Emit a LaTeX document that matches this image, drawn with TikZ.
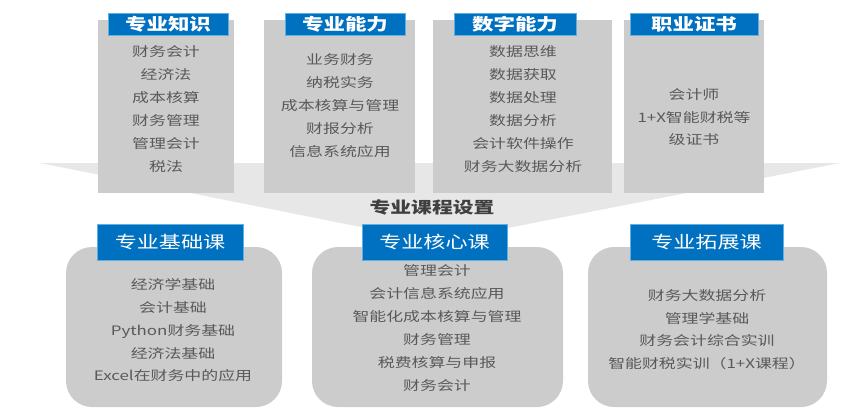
\documentclass[tikz,border=0pt]{standalone}
\usepackage{fontspec}
\setmainfont{Noto Sans CJK SC}[FakeStretch=1.3]
\definecolor{tblue}{RGB}{0,112,192}
\definecolor{tedge}{RGB}{95,175,225}
\definecolor{boxgray}{RGB}{204,204,204}
\definecolor{fungray}{RGB}{231,231,231}
\definecolor{txtgray}{RGB}{89,89,89}
\definecolor{headgray}{RGB}{64,64,64}
\tikzset{
  topbox/.style={fill=boxgray, inner sep=0pt},
  toptitle/.style={fill=tblue, draw=tedge, line width=0.8pt, inner sep=0pt,
                   minimum height=22pt, text=white, font=\fontsize{16.5}{18}\selectfont\bfseries},
  coursebox/.style={fill=boxgray, rounded corners=26pt, inner sep=0pt, minimum height=160pt},
  coursetitle/.style={fill=tblue, draw=tedge, line width=0.8pt, inner sep=0pt,
                   minimum height=36pt, text=white, font=\fontsize{17}{19}\selectfont},
  items/.style={text=txtgray, align=center, inner sep=0pt, font=\fontsize{13}{23}\selectfont},
}

\begin{document}
\begin{tikzpicture}[x=1pt, y=-1pt]
  \useasboundingbox (0,0) rectangle (865,416);
  % funnel behind everything
  \fill[fungray] (40,163) -- (840,163) -- (436,242) -- cycle;

  % top row
  \node[topbox, minimum width=136pt, minimum height=173pt] (know) at (166,106.5) {};
  \node[topbox, minimum width=151pt, minimum height=173pt] (abil) at (339.5,106.5) {};
  \node[topbox, minimum width=179pt, minimum height=173pt] (digi) at (522.5,106.5) {};
  \node[topbox, minimum width=140pt, minimum height=173pt] (cert) at (694,106.5) {};
  \node[toptitle, minimum width=120pt] (knowT) at (168,24) {专业知识};
  \node[toptitle, minimum width=120pt] (abilT) at (345,24) {专业能力};
  \node[toptitle, minimum width=122pt] (digiT) at (515,24) {数字能力};
  \node[toptitle, minimum width=128pt] (certT) at (694,24) {职业证书};
  \node[items] (knowL) at (166,109.5) {财务会计\\经济法\\成本核算\\财务管理\\管理会计\\税法};
  \node[items] (abilL) at (340,106) {业务财务\\纳税实务\\成本核算与管理\\财报分析\\信息系统应用};
  \node[items] (digiL) at (523,109.5) {数据思维\\数据获取\\数据处理\\数据分析\\会计软件操作\\财务大数据分析};
  \node[items, font=\fontsize{13}{22.5}\selectfont] (certL) at (694,117.5) {会计师\\1+X智能财税等\\级证书};

  \node[text=headgray, font=\fontsize{16}{18}\selectfont\bfseries] (head) at (432,207) {专业课程设置};

  % bottom row
  \node[coursebox, minimum width=216pt] (base) at (174,327) {};
  \node[coursebox, minimum width=251pt] (core) at (437.5,327) {};
  \node[coursebox, minimum width=239pt] (ext) at (707.5,327) {};
  \node[coursetitle, minimum width=146pt] (baseT) at (170,242) {专业基础课};
  \node[coursetitle, minimum width=145pt] (coreT) at (434.5,242) {专业核心课};
  \node[coursetitle, minimum width=153pt] (extT) at (706.5,242) {专业拓展课};
  \node[items, font=\fontsize{13}{22.75}\selectfont] (baseL) at (173,330.5) {经济学基础\\会计基础\\Python财务基础\\经济法基础\\Excel在财务中的应用};
  \node[items] (coreL) at (437,328.5) {管理会计\\会计信息系统应用\\智能化成本核算与管理\\财务管理\\税费核算与申报\\财务会计};
  \node[items, font=\fontsize{13}{22.5}\selectfont] (extL) at (707,329.5) {财务大数据分析\\管理学基础\\财务会计综合实训\\智能财税实训（1+X课程）};
\end{tikzpicture}
\end{document}
